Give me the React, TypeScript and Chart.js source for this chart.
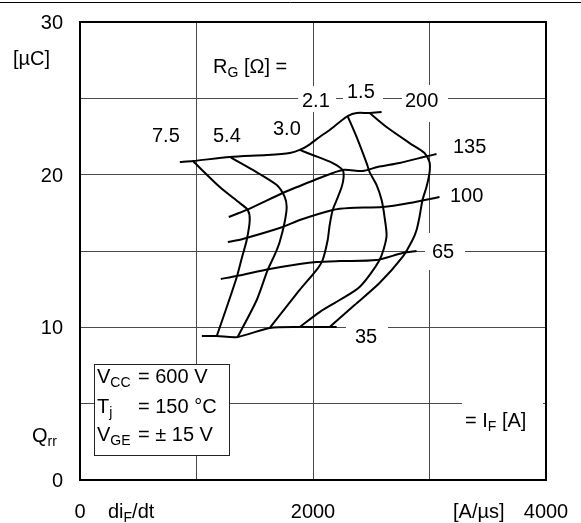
import { useEffect, useRef } from 'react';
import { Chart, registerables } from 'chart.js';

Chart.register(...registerables);

// ---- data (diF/dt in A/µs, Qrr in µC) ----
const if200X = [857, 969, 1286, 1603, 1800, 1886, 1963, 2057, 2143, 2229, 2297, 2374, 2486, 2589];
const if200Y = [20.83, 20.89, 21.16, 21.29, 21.42, 21.62, 21.94, 22.47, 22.93, 23.45, 23.84, 24.04, 24.04, 24.1];
const if135X = [1277, 1431, 1740, 1886, 2057, 2254, 2426, 2554, 2743, 2983, 3060];
const if135Y = [17.23, 17.69, 18.8, 19.26, 19.78, 20.31, 20.24, 20.5, 20.76, 21.22, 21.35];
const if100X = [1269, 1397, 1740, 1886, 2169, 2314, 2597, 2829, 3086];
const if100Y = [15.59, 15.79, 16.57, 17.03, 17.69, 17.82, 17.88, 18.14, 18.54];
const if65X = [1209, 1346, 1629, 1886, 2031, 2229, 2546, 2769, 2889];
const if65Y = [13.17, 13.36, 13.82, 14.15, 14.28, 14.34, 14.41, 14.87, 15.0];
const if35X = [1046, 1174, 1354, 1629, 1886, 2203];
const if35Y = [9.43, 9.43, 9.37, 9.96, 10.02, 10.02];

const rg75X = [969, 1200, 1371, 1440, 1457, 1431, 1389, 1346, 1260, 1174];
const rg75Y = [20.89, 19.19, 18.14, 17.69, 17.03, 15.72, 14.54, 13.3, 11.33, 9.43];
const rg54X = [1286, 1483, 1689, 1757, 1774, 1757, 1714, 1671, 1611, 1517, 1354];
const rg54Y = [21.16, 20.31, 19.32, 18.54, 17.88, 16.9, 15.59, 14.74, 13.76, 11.79, 9.37];
const rg30X = [1886, 1997, 2169, 2254, 2263, 2246, 2203, 2169, 2143, 2126, 2083, 2031, 1886, 1629];
const rg30Y = [21.62, 21.29, 20.76, 20.31, 19.85, 19.19, 18.34, 17.69, 16.7, 15.72, 14.41, 13.76, 12.45, 9.96];
const rg21X = [2297, 2374, 2460, 2486, 2546, 2589, 2614, 2631, 2571, 2400, 2229, 2057, 1886];
const rg21Y = [23.84, 22.47, 20.76, 20.17, 19.32, 18.34, 17.23, 15.92, 14.41, 12.64, 11.79, 11.0, 10.02];
const rg15X = [2486, 2631, 2829, 2957, 3000, 3000, 2974, 2940, 2914, 2889, 2854, 2769, 2571, 2357, 2143];
const rg15Y = [24.04, 23.12, 22.07, 21.42, 20.83, 20.11, 19.19, 18.34, 17.23, 16.38, 15.72, 14.61, 12.9, 11.46, 10.02];

const xTickValues = [0, 2000, 4000];
const xTickLabels = ['0', '2000', '4000'];
const yTickValues = [0, 10, 20, 30];
const yTickLabels = ['0', '10', '20', '30'];

const seriesList: [string, number[], number[]][] = [
  ['IF 200', if200X, if200Y],
  ['IF 135', if135X, if135Y],
  ['IF 100', if100X, if100Y],
  ['IF 65', if65X, if65Y],
  ['IF 35', if35X, if35Y],
  ['RG 7.5', rg75X, rg75Y],
  ['RG 5.4', rg54X, rg54Y],
  ['RG 3.0', rg30X, rg30Y],
  ['RG 2.1', rg21X, rg21Y],
  ['RG 1.5', rg15X, rg15Y],
];

const FONT = '"Liberation Sans", Arial, Helvetica, sans-serif';
const W = 581;
const H = 523;

type Part = { t: string; sub?: boolean };

function drawParts(ctx: CanvasRenderingContext2D, parts: Part[], x: number, y: number) {
  let cx = x;
  for (const p of parts) {
    ctx.font = `${p.sub ? 14 : 20}px ${FONT}`;
    ctx.fillText(p.t, cx, y + (p.sub ? 4 : 0));
    cx += ctx.measureText(p.t).width;
  }
}

const decoPlugin = {
  id: 'deco',
  beforeDatasetsDraw(chart: any) {
    const ctx: CanvasRenderingContext2D = chart.ctx;
    ctx.save();
    ctx.fillStyle = '#ffffff';
    const boxes = [
      [298, 86, 38, 26],
      [343, 78, 40, 26],
      [402, 85, 46, 37],
      [425, 233, 40, 37],
      [346, 320, 42, 28],
      [462, 395, 81, 37],
    ];
    for (const b of boxes) ctx.fillRect(b[0], b[1], b[2], b[3]);
    ctx.restore();
  },
  afterDraw(chart: any) {
    const ctx: CanvasRenderingContext2D = chart.ctx;
    const { left, right, top, bottom } = chart.chartArea;
    const xs = chart.scales.x;
    const ys = chart.scales.y;
    ctx.save();
    // top page rule
    ctx.strokeStyle = '#000';
    ctx.lineWidth = 1;
    ctx.beginPath();
    ctx.moveTo(0, 2.5);
    ctx.lineTo(W, 2.5);
    ctx.stroke();
    // frame
    ctx.lineWidth = 2;
    ctx.strokeRect(left, top, right - left, bottom - top);

    ctx.fillStyle = '#000';
    ctx.textBaseline = 'alphabetic';
    ctx.font = `20px ${FONT}`;
    // y tick labels
    ctx.textAlign = 'right';
    yTickValues.forEach((v, i) => {
      ctx.fillText(yTickLabels[i], 63, ys.getPixelForValue(v) + 7);
    });
    // x tick labels
    ctx.textAlign = 'center';
    xTickValues.forEach((v, i) => {
      ctx.fillText(xTickLabels[i], xs.getPixelForValue(v), 518);
    });
    ctx.textAlign = 'left';
    drawParts(ctx, [{ t: 'di' }, { t: 'F', sub: true }, { t: '/dt' }], 108, 518);
    drawParts(ctx, [{ t: '[A/µs]' }], 453, 518);
    drawParts(ctx, [{ t: '[µC]' }], 13, 65);
    drawParts(ctx, [{ t: 'Q' }, { t: 'rr', sub: true }], 32, 442);

    // curve labels
    drawParts(ctx, [{ t: 'R' }, { t: 'G', sub: true }, { t: ' [Ω] =' }], 213, 73);
    drawParts(ctx, [{ t: '7.5' }], 152, 142);
    drawParts(ctx, [{ t: '5.4' }], 213, 142);
    drawParts(ctx, [{ t: '3.0' }], 273, 135);
    drawParts(ctx, [{ t: '2.1' }], 302, 107);
    drawParts(ctx, [{ t: '1.5' }], 347, 98);
    drawParts(ctx, [{ t: '200' }], 405, 107);
    drawParts(ctx, [{ t: '135' }], 453, 153);
    drawParts(ctx, [{ t: '100' }], 450, 202);
    drawParts(ctx, [{ t: '65' }], 432, 258);
    drawParts(ctx, [{ t: '35' }], 355, 343);
    drawParts(ctx, [{ t: '= I' }, { t: 'F', sub: true }, { t: ' [A]' }], 465, 427);

    // condition box
    ctx.fillStyle = '#fff';
    ctx.fillRect(94.5, 364.5, 135, 91);
    ctx.strokeStyle = '#222';
    ctx.lineWidth = 1;
    ctx.strokeRect(94.5, 364.5, 135, 91);
    ctx.fillStyle = '#000';
    drawParts(ctx, [{ t: 'V' }, { t: 'CC', sub: true }], 97, 383);
    drawParts(ctx, [{ t: '= 600 V' }], 138, 383);
    drawParts(ctx, [{ t: 'T' }, { t: 'j', sub: true }], 97, 413);
    drawParts(ctx, [{ t: '= 150 °C' }], 138, 413);
    drawParts(ctx, [{ t: 'V' }, { t: 'GE', sub: true }], 97, 441);
    drawParts(ctx, [{ t: '= ± 15 V' }], 138, 441);
    ctx.restore();
  },
};

export default function App() {
  const ref = useRef<HTMLCanvasElement | null>(null);
  useEffect(() => {
    if (!ref.current) return;
    const datasets = seriesList.map(([label, xs, ys]) => ({
      label,
      data: xs.map((x, i) => ({ x, y: ys[i] })),
      showLine: true,
      borderColor: '#000',
      borderWidth: 2,
      pointRadius: 0,
      tension: 0.25,
      fill: false,
    }));
    const chart = new Chart(ref.current, {
      type: 'scatter',
      data: { datasets },
      options: {
        animation: false,
        responsive: false,
        devicePixelRatio: 1,
        layout: { padding: { left: 80, top: 22, right: 35, bottom: 43 } },
        plugins: { legend: { display: false }, tooltip: { enabled: false } },
        scales: {
          x: {
            type: 'linear',
            min: 0,
            max: 4000,
            ticks: { display: false, stepSize: 1000 },
            grid: { color: '#4a4a4a', lineWidth: 1, drawTicks: false },
            border: { display: false },
            afterFit: (s: any) => { s.height = 0; },
          },
          y: {
            type: 'linear',
            min: 0,
            max: 30,
            ticks: { display: false, stepSize: 5 },
            grid: { color: '#4a4a4a', lineWidth: 1, drawTicks: false },
            border: { display: false },
            afterFit: (s: any) => { s.width = 0; },
          },
        },
      },
      plugins: [decoPlugin],
    } as any);
    return () => chart.destroy();
  }, []);
  return (
    <div style={{ position: 'absolute', left: 0, top: 0, width: W, height: H, background: '#fff' }}>
      <canvas ref={ref} width={W} height={H} style={{ display: 'block' }} />
    </div>
  );
}
